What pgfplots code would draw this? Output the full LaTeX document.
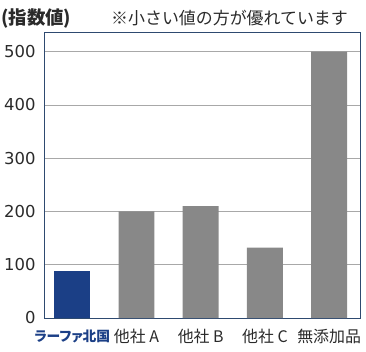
\documentclass[border=0pt]{standalone}
\usepackage{pgfplots}
\pgfplotsset{compat=1.18}
\usepackage{fontspec}
\setmainfont{Noto Sans CJK JP}
\newfontfamily\numfont{DejaVu Sans}
\newfontfamily\palt[RawFeature=+palt]{Noto Sans CJK JP}
\definecolor{barblue}{HTML}{1B3F86}
\definecolor{bargray}{HTML}{888888}
\definecolor{axisblue}{HTML}{2E4A70}
\definecolor{gridgray}{HTML}{A8A8A8}
\definecolor{txt}{HTML}{2A2A2A}
\begin{document}
\begin{tikzpicture}
\begin{axis}[
  scale only axis,
  width=316bp, height=286bp,
  xmin=-0.44, xmax=4.48,
  ymin=0, ymax=537,
  clip=false,
  ytick={0,100,200,300,400,500},
  xtick={0,1,2,3,4},
  xticklabels={{\color{barblue}\palt\bfseries\fontsize{13.8}{14}\selectfont ラーファ北国},{他社 A},{他社 B},{他社 C},{無添加品}},
  tick style={draw=none},
  axis line style={draw=axisblue, line width=0.9pt},
  ymajorgrids, grid style={gridgray, line width=0.7pt},
  /pgf/number format/assume math mode=true,
  yticklabel style={font=\numfont\fontsize{16.5}{17}\selectfont, text=txt, xshift=-5bp},
  xticklabel style={font=\fontsize{16}{17}\selectfont, text=txt, anchor=center, yshift=-18bp},
]
\addplot[ybar, bar width=0.56, fill=barblue, draw=none] coordinates {(0,89)};
\addplot[ybar, bar width=0.56, fill=bargray, draw=none] coordinates {(1,200) (2,210) (3,132) (4,500)};
\node[anchor=west, font=\bfseries\fontsize{18.5}{19}\selectfont, text=txt, inner sep=0pt] at ([xshift=-43bp,yshift=13bp]rel axis cs:0,1) {(指数値)};
\node[anchor=east, font=\fontsize{17}{18}\selectfont, text=txt, inner sep=0pt] at ([xshift=-12bp,yshift=14bp]rel axis cs:1,1) {※小さい値の方が優れています};
\end{axis}
\path[use as bounding box] ([xshift=-44bp,yshift=-34bp]current axis.south west) rectangle ([xshift=6bp,yshift=32bp]current axis.north east);
\end{tikzpicture}
\end{document}
